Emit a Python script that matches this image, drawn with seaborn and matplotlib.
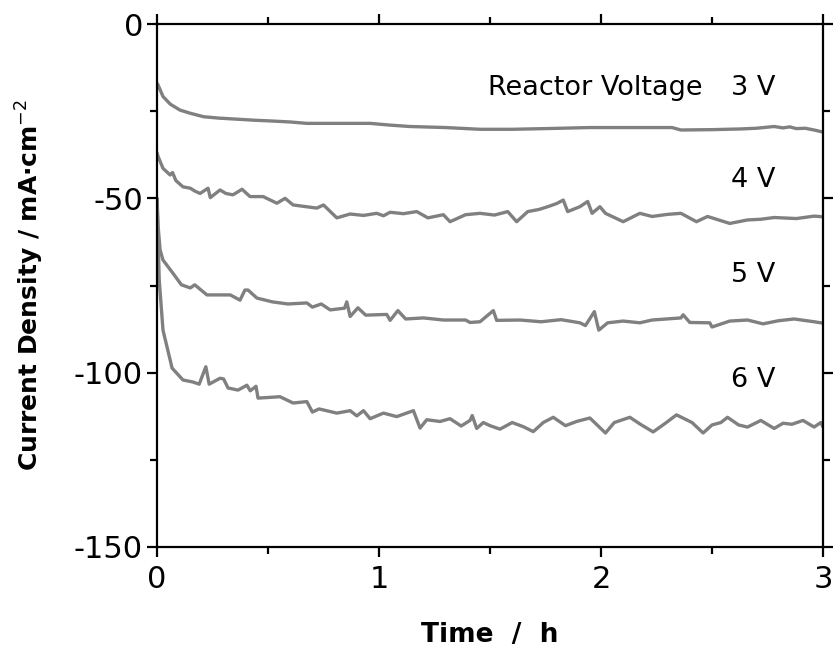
import numpy as np
import pandas as pd
import matplotlib
matplotlib.use("Agg")
import matplotlib.pyplot as plt
import seaborn as sns
from matplotlib.ticker import MultipleLocator

# ---- data ----
t_3v = [0.0, 0.005, 0.027, 0.06, 0.104, 0.15, 0.21, 0.28, 0.36, 0.44, 0.51, 0.6, 0.675, 0.8,
        0.96, 1.05, 1.14, 1.3, 1.455, 1.6, 1.75, 1.95, 2.1, 2.32, 2.36, 2.5, 2.63, 2.7, 2.78,
        2.82, 2.85, 2.88, 2.92, 2.96, 3.0]
j_3v = [-17.0, -17.5, -20.8, -23.0, -24.7, -25.6, -26.6, -27.0, -27.3, -27.6, -27.8, -28.1,
        -28.5, -28.5, -28.5, -29.0, -29.4, -29.7, -30.2, -30.2, -30.0, -29.7, -29.7, -29.7,
        -30.4, -30.3, -30.1, -29.9, -29.4, -29.8, -29.5, -30.0, -29.9, -30.4, -31.0]

t_4v = [0.0, 0.005, 0.027, 0.059, 0.07, 0.085, 0.117, 0.15, 0.17, 0.194, 0.23, 0.24, 0.284,
        0.31, 0.342, 0.383, 0.419, 0.478, 0.54, 0.577, 0.613, 0.66, 0.72, 0.75, 0.81, 0.87,
        0.93, 0.99, 1.02, 1.05, 1.11, 1.17, 1.22, 1.29, 1.32, 1.39, 1.455, 1.52, 1.58, 1.62,
        1.67, 1.72, 1.76, 1.80, 1.83, 1.85, 1.905, 1.94, 1.96, 1.995, 2.02, 2.10, 2.175, 2.23,
        2.30, 2.36, 2.43, 2.48, 2.58, 2.66, 2.72, 2.78, 2.88, 2.96, 3.0]
j_4v = [-37.0, -38.0, -41.4, -43.3, -42.6, -44.9, -46.7, -47.1, -47.9, -48.6, -47.1, -49.8,
        -47.6, -48.6, -49.0, -47.4, -49.5, -49.5, -51.4, -50.0, -51.9, -52.3, -52.8, -51.9,
        -55.6, -54.5, -54.9, -54.3, -55.0, -54.0, -54.4, -53.8, -55.6, -54.7, -56.7, -54.7,
        -54.3, -54.8, -53.8, -56.7, -53.8, -53.2, -52.4, -51.5, -50.5, -53.8, -52.4, -50.9,
        -54.3, -52.4, -54.3, -56.7, -54.3, -55.2, -54.6, -54.3, -56.7, -55.2, -57.2, -56.2,
        -56.0, -55.5, -55.8, -55.1, -55.3]

t_5v = [0.0, 0.005, 0.014, 0.027, 0.072, 0.11, 0.15, 0.17, 0.225, 0.33, 0.374, 0.396, 0.41,
        0.45, 0.52, 0.59, 0.675, 0.70, 0.74, 0.78, 0.845, 0.855, 0.87, 0.905, 0.94, 1.035,
        1.05, 1.085, 1.12, 1.20, 1.29, 1.39, 1.41, 1.455, 1.515, 1.53, 1.635, 1.73, 1.82,
        1.905, 1.93, 1.97, 1.99, 2.03, 2.10, 2.175, 2.23, 2.36, 2.37, 2.40, 2.49, 2.50, 2.58,
        2.66, 2.73, 2.80, 2.87, 2.96, 3.0]
j_5v = [-50.0, -58.0, -64.8, -67.7, -71.5, -74.8, -75.7, -74.8, -77.7, -77.7, -79.2, -76.3,
        -76.3, -78.6, -79.7, -80.3, -80.0, -81.2, -80.3, -82.0, -81.5, -79.7, -83.9, -81.4,
        -83.5, -83.3, -85.0, -82.2, -84.6, -84.3, -84.9, -84.9, -85.6, -85.4, -82.2, -85.0,
        -84.9, -85.4, -84.8, -85.7, -86.5, -82.5, -87.8, -85.7, -85.2, -85.7, -84.9, -84.3,
        -83.4, -85.6, -85.7, -86.9, -85.2, -84.9, -86.0, -85.1, -84.6, -85.4, -85.8]

t_6v = [0.0, 0.005, 0.01, 0.027, 0.068, 0.117, 0.163, 0.19, 0.22, 0.235, 0.284, 0.3, 0.32,
        0.365, 0.405, 0.42, 0.446, 0.455, 0.554, 0.613, 0.675, 0.70, 0.73, 0.81, 0.87, 0.90,
        0.93, 0.96, 1.02, 1.08, 1.155, 1.185, 1.215, 1.275, 1.32, 1.37, 1.41, 1.42, 1.44,
        1.47, 1.50, 1.545, 1.60, 1.65, 1.695, 1.74, 1.785, 1.84, 1.89, 1.95, 2.02, 2.06, 2.13,
        2.18, 2.235, 2.29, 2.34, 2.41, 2.46, 2.50, 2.54, 2.57, 2.62, 2.66, 2.72, 2.78, 2.82,
        2.86, 2.91, 2.96, 2.99, 3.0]
j_6v = [-50.0, -62.0, -73.4, -87.8, -98.7, -102.1, -102.7, -103.3, -98.3, -103.3, -101.6,
        -101.8, -104.4, -105.0, -103.6, -105.2, -103.9, -107.3, -106.9, -108.7, -108.3, -111.3,
        -110.4, -111.6, -110.9, -112.4, -110.9, -113.2, -111.6, -112.6, -110.9, -115.9, -113.5,
        -114.0, -113.2, -115.3, -113.7, -112.3, -116.0, -114.3, -115.2, -116.2, -114.3, -115.5,
        -116.9, -114.3, -112.8, -115.2, -114.0, -113.0, -117.3, -114.3, -112.8, -114.9, -117.0,
        -114.5, -112.1, -114.3, -117.3, -115.0, -114.3, -112.8, -115.0, -115.6, -113.7, -116.0,
        -114.5, -114.8, -113.7, -115.6, -114.3, -115.6]

voltages = ["3 V", "4 V", "5 V", "6 V"]
times = [t_3v, t_4v, t_5v, t_6v]
currents = [j_3v, j_4v, j_5v, j_6v]

x_ticks = [0, 1, 2, 3]
y_ticks = [0, -50, -100, -150]

frames = [pd.DataFrame({"Time": t, "J": j, "V": v})
          for t, j, v in zip(times, currents, voltages)]
df = pd.concat(frames, ignore_index=True)

# ---- plot ----
sns.set_theme(style="ticks")
plt.rcParams["font.family"] = ["DejaVu Sans"]
plt.rcParams["text.color"] = "black"
plt.rcParams["axes.labelcolor"] = "black"
plt.rcParams["xtick.color"] = "black"
plt.rcParams["ytick.color"] = "black"

fig = plt.figure(figsize=(8.33, 6.47), dpi=100)
ax = fig.add_axes([157 / 833, 1 - 547 / 647, (823 - 157) / 833, (547 - 24) / 647])

line_color = "#808080"
sns.lineplot(data=df, x="Time", y="J", hue="V", units="V", estimator=None, sort=False,
             palette=[line_color] * 4, legend=False, linewidth=2.4, ax=ax)

ax.set_xlim(0, 3)
ax.set_ylim(-150, 0)
ax.set_xticks(x_ticks)
ax.set_yticks(y_ticks)
ax.set_xticklabels([str(v) for v in x_ticks])
ax.set_yticklabels([str(v) for v in y_ticks])
ax.xaxis.set_minor_locator(MultipleLocator(0.5))
ax.yaxis.set_minor_locator(MultipleLocator(25))

for s in ax.spines.values():
    s.set_visible(True)
    s.set_linewidth(1.6)
    s.set_color("black")

ax.tick_params(which="both", direction="out", top=True, right=True, color="black",
               width=1.6)
ax.tick_params(which="major", length=7, labelsize=22, pad=3)
ax.tick_params(axis="x", which="major", pad=6)
ax.tick_params(which="minor", length=5)

ax.set_xlabel("Time  /  h", fontsize=19, fontweight="bold", labelpad=20)
ax.set_ylabel("Current Density / mA·cm$^{-2}$", fontsize=18, fontweight="bold", labelpad=20)

fs = 19.5
ax.text(2.46, -18.4, "Reactor Voltage", fontsize=fs, ha="right", va="center")
ax.text(2.785, -18.4, "3 V", fontsize=fs, ha="right", va="center")
ax.text(2.785, -44.7, "4 V", fontsize=fs, ha="right", va="center")
ax.text(2.785, -72.0, "5 V", fontsize=fs, ha="right", va="center")
ax.text(2.785, -102.0, "6 V", fontsize=fs, ha="right", va="center")

fig.savefig("out.png", dpi=100)
